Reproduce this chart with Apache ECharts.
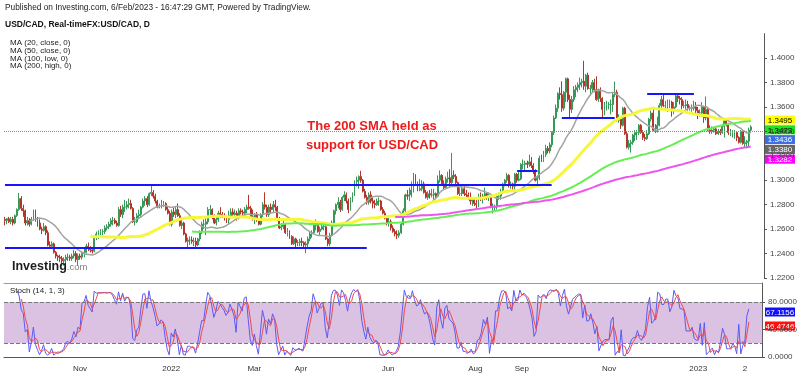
<!DOCTYPE html>
<html>
<head>
<meta charset="utf-8">
<script src="https://cdn.jsdelivr.net/npm/echarts@6/dist/echarts.min.js"></script>
<style>
  html, body { margin: 0; padding: 0; background: #fff; }
  #chart { width: 800px; height: 376px; }
</style>
</head>
<body>
<div id="chart"></div>
<script>
// daily USD/CAD bars as [open, high, low, close]
// warmup = Aug 31 .. Sep 8 2021, scrolled off the left edge (feeds the MAs / stoch)
const warmup = [
  [1.2620,1.2660,1.2590,1.2620],[1.2620,1.2640,1.2580,1.2610],[1.2610,1.2620,1.2530,1.2540],
  [1.2540,1.2560,1.2494,1.2540],[1.2540,1.2560,1.2510,1.2530],[1.2530,1.2670,1.2520,1.2650],
  [1.2650,1.2760,1.2630,1.2680]
];
const sep21 = [
  [1.2680,1.2700,1.2630,1.2670],[1.2670,1.2690,1.2640,1.2685],[1.2685,1.2700,1.2650,1.2660],
  [1.2660,1.2700,1.2640,1.2680],[1.2680,1.2700,1.2630,1.2650],[1.2650,1.2720,1.2640,1.2710],
  [1.2710,1.2770,1.2700,1.2760],[1.2760,1.2896,1.2750,1.2850],[1.2850,1.2870,1.2750,1.2770],
  [1.2770,1.2800,1.2700,1.2750],[1.2750,1.2760,1.2630,1.2650],[1.2650,1.2700,1.2630,1.2670],
  [1.2670,1.2690,1.2620,1.2640],[1.2640,1.2700,1.2630,1.2680],[1.2680,1.2760,1.2670,1.2740],
  [1.2740,1.2760,1.2660,1.2670]
];
const oct21 = [
  [1.2670,1.2700,1.2620,1.2650],[1.2650,1.2680,1.2590,1.2600],[1.2600,1.2620,1.2560,1.2590],
  [1.2590,1.2650,1.2580,1.2620],[1.2620,1.2630,1.2550,1.2570],[1.2570,1.2590,1.2460,1.2470],
  [1.2470,1.2500,1.2440,1.2460],[1.2460,1.2500,1.2440,1.2480],[1.2480,1.2490,1.2400,1.2410],
  [1.2410,1.2420,1.2360,1.2380],[1.2380,1.2390,1.2340,1.2370],[1.2370,1.2390,1.2330,1.2360],
  [1.2360,1.2380,1.2300,1.2340],[1.2340,1.2370,1.2300,1.2350],[1.2350,1.2390,1.2288,1.2370],
  [1.2370,1.2400,1.2340,1.2370],[1.2370,1.2390,1.2340,1.2360],[1.2360,1.2400,1.2340,1.2380],
  [1.2380,1.2430,1.2360,1.2400],[1.2400,1.2420,1.2330,1.2350],[1.2350,1.2400,1.2300,1.2380]
];
const nov21 = [
  [1.2380,1.2400,1.2350,1.2370],[1.2370,1.2420,1.2350,1.2400],[1.2400,1.2440,1.2370,1.2410],
  [1.2410,1.2480,1.2400,1.2460],[1.2460,1.2490,1.2420,1.2440],[1.2440,1.2460,1.2410,1.2430],
  [1.2430,1.2450,1.2400,1.2420],[1.2420,1.2540,1.2410,1.2530],[1.2530,1.2580,1.2510,1.2560],
  [1.2560,1.2590,1.2520,1.2570],[1.2570,1.2600,1.2540,1.2580],[1.2580,1.2600,1.2550,1.2580],
  [1.2580,1.2630,1.2560,1.2610],[1.2610,1.2640,1.2590,1.2620],[1.2620,1.2660,1.2600,1.2640],
  [1.2640,1.2690,1.2620,1.2670],[1.2670,1.2700,1.2630,1.2670],[1.2670,1.2690,1.2640,1.2650],
  [1.2650,1.2670,1.2620,1.2630],[1.2630,1.2780,1.2620,1.2760],[1.2760,1.2790,1.2700,1.2720],
  [1.2720,1.2800,1.2690,1.2780]
];
const dec21 = [
  [1.2780,1.2840,1.2740,1.2780],[1.2780,1.2830,1.2760,1.2800],[1.2800,1.2850,1.2770,1.2810],
  [1.2810,1.2840,1.2760,1.2770],[1.2770,1.2780,1.2650,1.2660],[1.2660,1.2700,1.2630,1.2660],
  [1.2660,1.2730,1.2650,1.2710],[1.2710,1.2760,1.2680,1.2720],[1.2720,1.2790,1.2700,1.2780],
  [1.2780,1.2850,1.2770,1.2830],[1.2830,1.2870,1.2790,1.2850],[1.2850,1.2870,1.2780,1.2800],
  [1.2800,1.2900,1.2790,1.2890],[1.2890,1.2963,1.2870,1.2900],[1.2900,1.2920,1.2850,1.2870],
  [1.2870,1.2890,1.2810,1.2830],[1.2830,1.2840,1.2770,1.2780],[1.2780,1.2810,1.2770,1.2790],
  [1.2790,1.2840,1.2770,1.2810],[1.2810,1.2830,1.2780,1.2810],[1.2810,1.2820,1.2750,1.2760],
  [1.2760,1.2780,1.2720,1.2730],[1.2730,1.2750,1.2630,1.2640]
];
const jan22 = [
  [1.2640,1.2760,1.2620,1.2740],[1.2740,1.2780,1.2700,1.2720],[1.2720,1.2780,1.2690,1.2760],
  [1.2760,1.2810,1.2700,1.2710],[1.2710,1.2730,1.2620,1.2630],[1.2630,1.2680,1.2600,1.2650],
  [1.2650,1.2660,1.2550,1.2560],[1.2560,1.2570,1.2490,1.2500],[1.2500,1.2530,1.2450,1.2510],
  [1.2510,1.2540,1.2470,1.2510],[1.2510,1.2540,1.2480,1.2500],[1.2500,1.2530,1.2460,1.2500],
  [1.2500,1.2530,1.2450,1.2470],[1.2470,1.2530,1.2460,1.2520],[1.2520,1.2590,1.2500,1.2580],
  [1.2580,1.2660,1.2560,1.2640],[1.2640,1.2680,1.2600,1.2640],[1.2640,1.2690,1.2550,1.2660],
  [1.2660,1.2780,1.2640,1.2760],[1.2760,1.2797,1.2710,1.2760],[1.2760,1.2770,1.2680,1.2710]
];
const feb22 = [
  [1.2710,1.2720,1.2640,1.2650],[1.2650,1.2700,1.2630,1.2680],[1.2680,1.2750,1.2660,1.2730],
  [1.2730,1.2780,1.2690,1.2720],[1.2720,1.2740,1.2690,1.2700],[1.2700,1.2730,1.2670,1.2690],
  [1.2690,1.2710,1.2650,1.2680],[1.2680,1.2750,1.2640,1.2710],[1.2710,1.2770,1.2690,1.2740],
  [1.2740,1.2770,1.2710,1.2720],[1.2720,1.2760,1.2700,1.2730],[1.2730,1.2750,1.2670,1.2690],
  [1.2690,1.2770,1.2680,1.2750],[1.2750,1.2770,1.2720,1.2740],[1.2740,1.2760,1.2710,1.2730],
  [1.2730,1.2780,1.2710,1.2760],[1.2760,1.2800,1.2730,1.2780],[1.2780,1.2880,1.2760,1.2770],
  [1.2770,1.2790,1.2690,1.2700],[1.2700,1.2760,1.2670,1.2680]
];
const mar22 = [
  [1.2680,1.2730,1.2640,1.2720],[1.2720,1.2740,1.2660,1.2680],[1.2680,1.2690,1.2630,1.2640],
  [1.2640,1.2730,1.2630,1.2720],[1.2720,1.2820,1.2700,1.2800],[1.2800,1.2901,1.2760,1.2780],
  [1.2780,1.2800,1.2700,1.2720],[1.2720,1.2800,1.2700,1.2780],[1.2780,1.2810,1.2730,1.2760],
  [1.2760,1.2830,1.2740,1.2800],[1.2800,1.2840,1.2750,1.2780],[1.2780,1.2790,1.2670,1.2680],
  [1.2680,1.2700,1.2600,1.2610],[1.2610,1.2650,1.2590,1.2620],[1.2620,1.2670,1.2600,1.2640],
  [1.2640,1.2650,1.2560,1.2570],[1.2570,1.2610,1.2540,1.2570],[1.2570,1.2590,1.2520,1.2540],
  [1.2540,1.2550,1.2470,1.2480],[1.2480,1.2540,1.2470,1.2520],[1.2520,1.2530,1.2450,1.2490],
  [1.2490,1.2510,1.2460,1.2490],[1.2490,1.2520,1.2460,1.2500]
];
const apr22 = [
  [1.2500,1.2530,1.2460,1.2490],[1.2490,1.2500,1.2440,1.2470],[1.2470,1.2500,1.2403,1.2480],
  [1.2480,1.2540,1.2450,1.2520],[1.2520,1.2580,1.2500,1.2560],[1.2560,1.2590,1.2530,1.2570],
  [1.2570,1.2650,1.2560,1.2630],[1.2630,1.2680,1.2590,1.2630],[1.2630,1.2650,1.2570,1.2580],
  [1.2580,1.2620,1.2550,1.2600],[1.2600,1.2640,1.2590,1.2620],[1.2620,1.2660,1.2590,1.2620],
  [1.2620,1.2630,1.2510,1.2520],[1.2520,1.2530,1.2460,1.2480],[1.2480,1.2570,1.2460,1.2550],
  [1.2550,1.2670,1.2540,1.2650],[1.2650,1.2760,1.2630,1.2750],[1.2750,1.2810,1.2720,1.2800],
  [1.2800,1.2860,1.2770,1.2820],[1.2820,1.2840,1.2740,1.2760],[1.2760,1.2870,1.2750,1.2860]
];
const may22 = [
  [1.2860,1.2910,1.2830,1.2880],[1.2880,1.2900,1.2810,1.2830],[1.2830,1.2850,1.2730,1.2760],
  [1.2760,1.2860,1.2750,1.2840],[1.2840,1.2900,1.2820,1.2880],[1.2880,1.3000,1.2870,1.2990],
  [1.2990,1.3030,1.2950,1.3000],[1.3000,1.3040,1.2930,1.3030],[1.3030,1.3077,1.2980,1.3000],
  [1.3000,1.3010,1.2900,1.2910],[1.2910,1.2930,1.2850,1.2860],[1.2860,1.2880,1.2800,1.2820],
  [1.2820,1.2900,1.2800,1.2880],[1.2880,1.2910,1.2810,1.2830],[1.2830,1.2860,1.2770,1.2810],
  [1.2810,1.2840,1.2770,1.2800],[1.2800,1.2850,1.2790,1.2830],[1.2830,1.2860,1.2790,1.2830],
  [1.2830,1.2840,1.2750,1.2760],[1.2760,1.2780,1.2720,1.2730],[1.2730,1.2750,1.2680,1.2690],
  [1.2690,1.2710,1.2630,1.2650]
];
const jun22 = [
  [1.2650,1.2690,1.2620,1.2660],[1.2660,1.2680,1.2590,1.2610],[1.2610,1.2630,1.2570,1.2580],
  [1.2580,1.2600,1.2540,1.2560],[1.2560,1.2590,1.2518,1.2550],[1.2550,1.2590,1.2530,1.2570],
  [1.2570,1.2660,1.2560,1.2640],[1.2640,1.2770,1.2630,1.2750],[1.2750,1.2890,1.2740,1.2880],
  [1.2880,1.2920,1.2840,1.2870],[1.2870,1.2940,1.2830,1.2880],[1.2880,1.2990,1.2860,1.2920],
  [1.2920,1.3060,1.2900,1.3040],[1.3040,1.3050,1.2960,1.2970],[1.2970,1.2990,1.2910,1.2920],
  [1.2920,1.3010,1.2910,1.2930],[1.2930,1.3000,1.2910,1.2970],[1.2970,1.2990,1.2890,1.2900],
  [1.2900,1.2920,1.2850,1.2860],[1.2860,1.2910,1.2840,1.2890],[1.2890,1.2920,1.2850,1.2880],
  [1.2880,1.2930,1.2860,1.2880]
];
const jul22 = [
  [1.2880,1.2930,1.2840,1.2890],[1.2890,1.2900,1.2850,1.2870],[1.2870,1.3040,1.2860,1.3000],
  [1.3000,1.3080,1.2980,1.3040],[1.3040,1.3050,1.2960,1.2970],[1.2970,1.3000,1.2920,1.2940],
  [1.2940,1.3030,1.2930,1.3010],[1.3010,1.3070,1.2980,1.3020],[1.3020,1.3090,1.2940,1.2980],
  [1.2980,1.3224,1.2960,1.3040],[1.3040,1.3080,1.3010,1.3030],[1.3030,1.3050,1.2950,1.2980],
  [1.2980,1.2990,1.2880,1.2890],[1.2890,1.2940,1.2870,1.2890],[1.2890,1.2960,1.2870,1.2930],
  [1.2930,1.2960,1.2870,1.2890],[1.2890,1.2920,1.2850,1.2880],[1.2880,1.2900,1.2840,1.2860],
  [1.2860,1.2900,1.2800,1.2830],[1.2830,1.2860,1.2790,1.2840],[1.2840,1.2850,1.2790,1.2810]
];
const aug22 = [
  [1.2810,1.2840,1.2770,1.2800],[1.2800,1.2890,1.2780,1.2880],[1.2880,1.2900,1.2830,1.2850],
  [1.2850,1.2890,1.2810,1.2870],[1.2870,1.2940,1.2840,1.2890],[1.2890,1.2900,1.2840,1.2860],
  [1.2860,1.2900,1.2830,1.2880],[1.2880,1.2890,1.2770,1.2780],[1.2780,1.2810,1.2728,1.2780],
  [1.2780,1.2800,1.2750,1.2780],[1.2780,1.2890,1.2760,1.2870],[1.2870,1.2900,1.2840,1.2870],
  [1.2870,1.2930,1.2840,1.2910],[1.2910,1.2980,1.2890,1.2970],[1.2970,1.3010,1.2950,1.3000],
  [1.3000,1.3060,1.2980,1.3040],[1.3040,1.3050,1.2940,1.2960],[1.2960,1.2990,1.2930,1.2970],
  [1.2970,1.2980,1.2910,1.2950],[1.2950,1.3060,1.2920,1.3050],[1.3050,1.3060,1.2980,1.3000],
  [1.3000,1.3070,1.2990,1.3010],[1.3010,1.3140,1.3000,1.3130]
];
const sep22 = [
  [1.3130,1.3170,1.3090,1.3130],[1.3130,1.3160,1.3080,1.3140],[1.3140,1.3160,1.3100,1.3130],
  [1.3130,1.3210,1.3110,1.3150],[1.3150,1.3190,1.3100,1.3120],[1.3120,1.3140,1.3050,1.3080],
  [1.3080,1.3090,1.2990,1.3000],[1.3000,1.3040,1.2960,1.3020],[1.3020,1.3200,1.3000,1.3180],
  [1.3180,1.3210,1.3150,1.3170],[1.3170,1.3240,1.3150,1.3210],[1.3210,1.3290,1.3190,1.3260],
  [1.3260,1.3280,1.3220,1.3240],[1.3240,1.3310,1.3220,1.3290],[1.3290,1.3400,1.3270,1.3390],
  [1.3390,1.3530,1.3370,1.3510],[1.3510,1.3620,1.3500,1.3590],[1.3590,1.3720,1.3560,1.3710],
  [1.3710,1.3760,1.3660,1.3700],[1.3700,1.3810,1.3560,1.3590],[1.3590,1.3730,1.3570,1.3720],
  [1.3720,1.3840,1.3640,1.3830]
];
const oct22 = [
  [1.3830,1.3840,1.3640,1.3660],[1.3660,1.3700,1.3500,1.3580],[1.3580,1.3690,1.3550,1.3660],
  [1.3660,1.3770,1.3640,1.3740],[1.3740,1.3780,1.3680,1.3760],[1.3760,1.3800,1.3720,1.3780],
  [1.3780,1.3840,1.3740,1.3800],[1.3800,1.3830,1.3760,1.3810],[1.3810,1.3977,1.3740,1.3770],
  [1.3770,1.3870,1.3720,1.3860],[1.3860,1.3880,1.3740,1.3750],[1.3750,1.3780,1.3690,1.3750],
  [1.3750,1.3820,1.3720,1.3800],[1.3800,1.3830,1.3720,1.3740],[1.3740,1.3850,1.3650,1.3660],
  [1.3660,1.3750,1.3640,1.3740],[1.3740,1.3760,1.3640,1.3670],[1.3670,1.3680,1.3500,1.3580],
  [1.3580,1.3640,1.3530,1.3610],[1.3610,1.3650,1.3570,1.3620],[1.3620,1.3640,1.3580,1.3620]
];
const nov22 = [
  [1.3620,1.3660,1.3540,1.3620],[1.3620,1.3720,1.3560,1.3700],[1.3700,1.3808,1.3680,1.3720],
  [1.3720,1.3740,1.3480,1.3490],[1.3490,1.3540,1.3470,1.3500],[1.3500,1.3520,1.3420,1.3450],
  [1.3450,1.3600,1.3440,1.3590],[1.3590,1.3600,1.3370,1.3380],[1.3380,1.3400,1.3260,1.3270],
  [1.3270,1.3330,1.3250,1.3300],[1.3300,1.3330,1.3226,1.3310],[1.3310,1.3380,1.3290,1.3370],
  [1.3370,1.3410,1.3320,1.3390],[1.3390,1.3410,1.3330,1.3390],[1.3390,1.3460,1.3370,1.3450],
  [1.3450,1.3460,1.3380,1.3390],[1.3390,1.3410,1.3330,1.3350],[1.3350,1.3380,1.3320,1.3340],
  [1.3340,1.3410,1.3330,1.3380],[1.3380,1.3510,1.3370,1.3500],[1.3500,1.3570,1.3480,1.3550],
  [1.3550,1.3600,1.3400,1.3410]
];
const dec22 = [
  [1.3410,1.3460,1.3385,1.3420],[1.3420,1.3520,1.3390,1.3450],[1.3450,1.3630,1.3440,1.3610],
  [1.3610,1.3690,1.3590,1.3660],[1.3660,1.3700,1.3600,1.3610],[1.3610,1.3650,1.3580,1.3610],
  [1.3610,1.3660,1.3560,1.3640],[1.3640,1.3660,1.3590,1.3640],[1.3640,1.3650,1.3520,1.3570],
  [1.3570,1.3640,1.3540,1.3600],[1.3600,1.3700,1.3590,1.3690],[1.3690,1.3705,1.3640,1.3670],
  [1.3670,1.3690,1.3620,1.3660],[1.3660,1.3680,1.3580,1.3610],[1.3610,1.3650,1.3590,1.3610],
  [1.3610,1.3660,1.3580,1.3620],[1.3620,1.3650,1.3570,1.3590],[1.3590,1.3610,1.3570,1.3590],
  [1.3590,1.3620,1.3560,1.3590],[1.3590,1.3650,1.3570,1.3600],[1.3600,1.3640,1.3550,1.3570],
  [1.3570,1.3600,1.3500,1.3550]
];
const jan23 = [
  [1.3550,1.3580,1.3520,1.3550],[1.3550,1.3640,1.3520,1.3600],[1.3600,1.3610,1.3470,1.3510],
  [1.3510,1.3685,1.3490,1.3580],[1.3580,1.3600,1.3400,1.3410],[1.3410,1.3450,1.3380,1.3400],
  [1.3400,1.3440,1.3380,1.3410],[1.3410,1.3440,1.3390,1.3420],[1.3420,1.3440,1.3370,1.3380],
  [1.3380,1.3420,1.3370,1.3400],[1.3400,1.3420,1.3370,1.3390],[1.3390,1.3460,1.3380,1.3440],
  [1.3440,1.3500,1.3350,1.3490],[1.3490,1.3510,1.3440,1.3460],[1.3460,1.3470,1.3370,1.3390],
  [1.3390,1.3420,1.3360,1.3390],[1.3390,1.3410,1.3350,1.3390],[1.3390,1.3410,1.3340,1.3390],
  [1.3390,1.3400,1.3320,1.3350],[1.3350,1.3360,1.3300,1.3310],[1.3310,1.3410,1.3300,1.3400],
  [1.3400,1.3410,1.3290,1.3300]
];
const feb23 = [
  [1.3300,1.3360,1.3270,1.3310],[1.3310,1.3330,1.3262,1.3320],[1.3320,1.3430,1.3270,1.3410],
  [1.3410,1.3450,1.3390,1.3436]
];

const firstDay = '2021-08-31';
const hiddenBars = warmup.length;
const futureSlots = 6;

// drawn horizontal levels: [from, to, price]
const levels = [
  ['2021-09-09', '2022-09-21', 1.2961],
  ['2021-09-09', '2022-05-17', 1.2445],
  ['2022-08-29', '2022-09-12', 1.3075],
  ['2022-09-28', '2022-11-03', 1.3509],
  ['2022-11-25', '2022-12-28', 1.3705]
];
const lastPrice = 1.3436;

const tickLabels = {
  '2021-11-01': 'Nov', '2022-01-03': '2022', '2022-03-01': 'Mar', '2022-04-01': 'Apr',
  '2022-06-01': 'Jun', '2022-08-01': 'Aug', '2022-09-01': 'Sep', '2022-11-01': 'Nov',
  '2023-01-02': '2023', '2023-02-02': '2'
};

const maLegend = ['MA (20, close, 0)', 'MA (50, close, 0)', 'MA (100, low, 0)', 'MA (200, high, 0)'];
// right-edge value tags: [text, background, text colour]
const priceTags = [
  ['1.3495', '#ffff00', '#000'], ['1.3473', '#22e022', '#000'], ['1.3436', '#3d6fe0', '#fff'],
  ['1.3380', '#666666', '#fff'], ['1.3282', '#ff00ff', '#fff']
];
const stochTags = [['67.1156', '#1010ff'], ['46.4746', '#ff1010']];

const FONT = 'Liberation Sans';

function weekdays(start, n) {
  const out = [];
  const d = new Date(start + 'T00:00:00Z');
  while (out.length < n) {
    const w = d.getUTCDay();
    if (w !== 0 && w !== 6) out.push(d.toISOString().slice(0, 10));
    d.setUTCDate(d.getUTCDate() + 1);
  }
  return out;
}

function sma(vals, n) {
  return vals.map((v, i) => {
    if (i < n - 1) return '-';
    let s = 0;
    for (let j = i - n + 1; j <= i; j++) {
      if (vals[j] === '-') return '-';
      s += vals[j];
    }
    return +(s / n).toFixed(5);
  });
}

function stochK(bars, n) {
  return bars.map((b, i) => {
    if (i < n - 1) return '-';
    let hh = -Infinity, ll = Infinity;
    for (let j = i - n + 1; j <= i; j++) {
      hh = Math.max(hh, bars[j][1]);
      ll = Math.min(ll, bars[j][2]);
    }
    return +(100 * (b[3] - ll) / (hh - ll)).toFixed(3);
  });
}

const bars = [].concat(warmup, sep21, oct21, nov21, dec21, jan22, feb22, mar22, apr22,
  may22, jun22, jul22, aug22, sep22, oct22, nov22, dec22, jan23, feb23);
const cats = weekdays(firstDay, bars.length + futureSlots).slice(hiddenBars);
const visible = arr => arr.slice(hiddenBars);

const highs = bars.map(b => b[1]);
const lows = bars.map(b => b[2]);
const closes = bars.map(b => b[3]);

const candles = visible(bars).map(b => [b[0], b[3], b[2], b[1]]);
const ma20 = visible(sma(closes, 20));
const ma50 = visible(sma(closes, 50));
const ma100 = visible(sma(lows, 100));
const ma200 = visible(sma(highs, 200));
const kFull = stochK(bars, 14);
const kLine = visible(kFull);
const dLine = visible(sma(kFull, 3));

const showTick = (i, v) => v in tickLabels;

const chart = echarts.init(document.getElementById('chart'), null, { renderer: 'canvas' });

const maLine = (data, color, width) => ({
  type: 'line', data, xAxisIndex: 0, yAxisIndex: 0, showSymbol: false, silent: true,
  lineStyle: { color, width }, z: 3
});

const tag = (y, text, bg, fg) => ({
  type: 'group', x: 765, y: y - 4.5, silent: true, z: 100,
  children: [
    { type: 'rect', shape: { x: 0, y: 0, width: 30, height: 9 }, style: { fill: bg } },
    { type: 'text', x: 15, y: 5, style: { text, fill: fg, font: '8px ' + FONT, textAlign: 'center', textVerticalAlign: 'middle' } }
  ]
});

const option = {
  animation: false,
  backgroundColor: '#fff',
  grid: [
    { left: 4, right: 36, top: 33.6, height: 244.4 },
    { left: 4, right: 36, top: 283, height: 74 }
  ],
  xAxis: [
    { type: 'category', gridIndex: 0, data: cats, axisLine: { show: false }, axisTick: { show: false }, axisLabel: { show: false } },
    {
      type: 'category', gridIndex: 1, data: cats, position: 'bottom', offset: 4,
      axisLine: { lineStyle: { color: '#555', width: 1 } },
      axisTick: { interval: showTick, length: 3, lineStyle: { color: '#555' } },
      axisLabel: { interval: showTick, formatter: v => tickLabels[v] || '', fontSize: 8, color: '#333', fontFamily: FONT, margin: 4 }
    },
    { type: 'category', gridIndex: 1, data: cats, position: 'top', axisLine: { lineStyle: { color: '#999' } }, axisTick: { show: false }, axisLabel: { show: false } }
  ],
  yAxis: [
    {
      type: 'value', gridIndex: 0, position: 'right', min: 1.22, max: 1.42, interval: 0.02,
      axisLine: { show: true, lineStyle: { color: '#555' } },
      axisTick: { show: true, length: 3, lineStyle: { color: '#555' } },
      axisLabel: { formatter: v => v.toFixed(4), fontSize: 8, color: '#444', fontFamily: FONT, margin: 6, showMaxLabel: false },
      splitLine: { show: false }
    },
    {
      type: 'value', gridIndex: 1, position: 'right', min: 0, max: 107.6, interval: 40,
      axisLine: { show: true, lineStyle: { color: '#555' } },
      axisTick: { show: true, length: 3, lineStyle: { color: '#555' } },
      axisLabel: { formatter: v => v.toFixed(4), fontSize: 8, color: '#444', fontFamily: FONT, margin: 6, showMaxLabel: false },
      splitLine: { show: false }
    }
  ],
  series: [
    {
      type: 'candlestick', data: candles, xAxisIndex: 0, yAxisIndex: 0, barWidth: '70%', silent: true,
      itemStyle: { color: '#36995a', color0: '#b5352b', borderColor: '#36995a', borderColor0: '#b5352b', borderWidth: 1 },
      markLine: {
        silent: true, symbol: ['none', 'none'], label: { show: false }, animation: false,
        data: [
          { yAxis: lastPrice, lineStyle: { type: 'dotted', color: '#6a86f0', width: 1 } },
          ...levels.map(([a, b, p]) => [
            { coord: [cats.indexOf(a), p], lineStyle: { type: 'solid', color: '#1515ff', width: 2 } },
            { coord: [cats.indexOf(b), p] }
          ])
        ]
      }
    },
    maLine(ma20, '#a3a3a3', 1.5),
    maLine(ma50, '#f7f73a', 3),
    maLine(ma100, '#66ee55', 2),
    maLine(ma200, '#ee55ee', 2),
    {
      type: 'line', data: kLine, xAxisIndex: 1, yAxisIndex: 1, showSymbol: false, silent: true,
      lineStyle: { color: '#5a5af5', width: 1 }, z: 4,
      markArea: { silent: true, itemStyle: { color: '#dcc2e2' }, data: [[{ yAxis: 20 }, { yAxis: 80 }]] },
      markLine: {
        silent: true, symbol: ['none', 'none'], label: { show: false },
        lineStyle: { type: 'dashed', color: '#777', width: 1 },
        data: [{ yAxis: 20 }, { yAxis: 80 }]
      }
    },
    {
      type: 'line', data: dLine, xAxisIndex: 1, yAxisIndex: 1, showSymbol: false, silent: true,
      lineStyle: { color: '#f04848', width: 1 }, z: 5
    }
  ],
  graphic: [
    { type: 'text', left: 5, top: 4, silent: true, style: { text: 'Published on Investing.com, 6/Feb/2023 - 16:47:29 GMT, Powered by TradingView.', font: '8.3px ' + FONT, fill: '#222' } },
    { type: 'text', left: 5, top: 20, silent: true, style: { text: 'USD/CAD, Real-timeFX:USD/CAD, D', font: 'bold 8.5px ' + FONT, fill: '#111' } },
    ...maLegend.map((t, i) => ({ type: 'text', left: 10, top: 39 + i * 7.7, silent: true, style: { text: t, font: '8px ' + FONT, fill: '#222' } })),
    {
      type: 'text', x: 372, y: 126, silent: true, z: 50,
      style: { text: 'The 200 SMA held as', font: 'bold 13px ' + FONT, fill: '#ee1b1b', textAlign: 'center', textVerticalAlign: 'middle' }
    },
    {
      type: 'text', x: 372, y: 145, silent: true, z: 50,
      style: { text: 'support for USD/CAD', font: 'bold 13px ' + FONT, fill: '#ee1b1b', textAlign: 'center', textVerticalAlign: 'middle' }
    },
    {
      type: 'text', x: 12, y: 267, silent: true, z: 50,
      style: {
        text: '{a|Investing}{b|.com}', textVerticalAlign: 'middle',
        rich: { a: { font: 'bold 12.5px ' + FONT, fill: '#1d1d1d' }, b: { font: '9.5px ' + FONT, fill: '#808080' } }
      }
    },
    { type: 'text', left: 10, top: 287, silent: true, z: 50, style: { text: 'Stoch (14, 1, 3)', font: '8px ' + FONT, fill: '#222' } },
    ...priceTags.map(([t, bg, fg], i) => tag(120 + i * 9.8, t, bg, fg)),
    ...stochTags.map(([t, bg], i) => tag(312 + i * 14, t, bg, '#fff'))
  ]
};

chart.setOption(option);
</script>
</body>
</html>
